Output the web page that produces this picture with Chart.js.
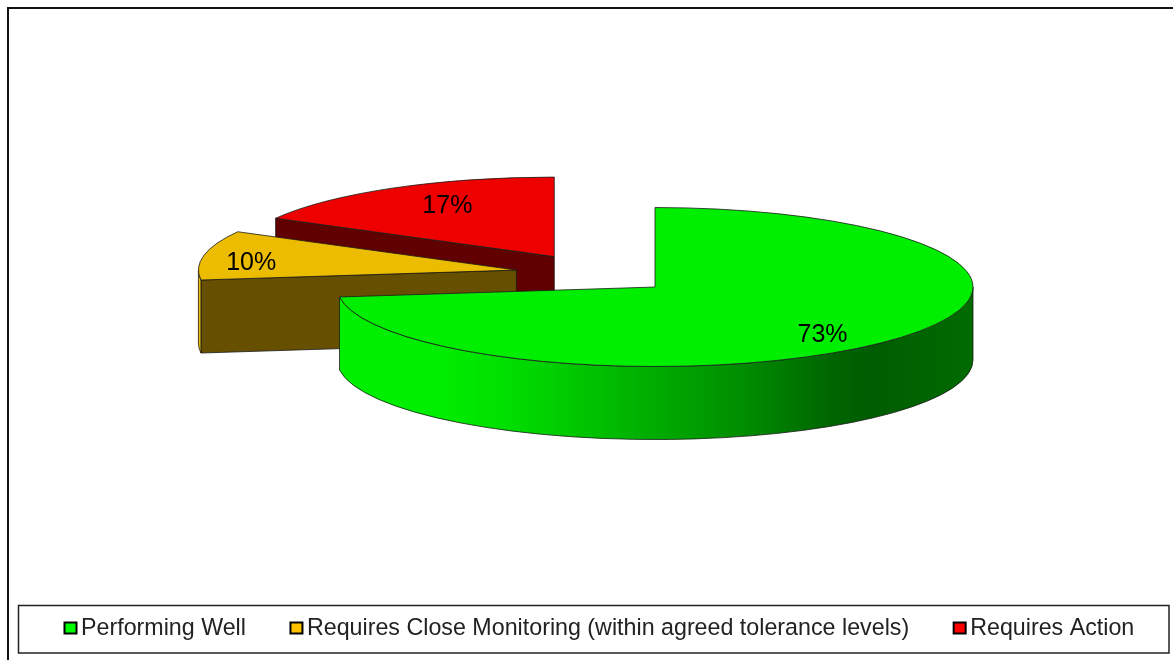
<!DOCTYPE html>
<html>
<head>
<meta charset="utf-8">
<title>Performance status</title>
<script src="https://cdn.jsdelivr.net/npm/chart.js@4"></script>
<style>
  html, body { margin: 0; padding: 0; background: #fff; overflow: hidden; }
  canvas { display: block; }
</style>
</head>
<body>
<canvas id="statusPie" width="1173" height="660"></canvas>
<script>
const categories = ['Performing Well', 'Requires Close Monitoring (within agreed tolerance levels)', 'Requires Action'];
const shares = [73, 10, 17];
const faceColours = ['#00ee00', '#ecbc00', '#ee0000'];
const legendColours = ['#00ff00', '#ffc000', '#ff0000'];
const cutColours = ['#005800', '#665000', '#600000'];

// look of the fake 3D pie
const TILT = 0.25;
const DEPTH = 73;
const EXPLODE = 80;
const PIE_Y = 273.8;
const PAINT_ORDER = [2, 1, 0]; // back to front
const LABEL_RADIUS = [222, 272, 212];
const LABEL_SHIFT_Y = [11, 6, -5];
const LABEL_SHIFT_X = [1, 2, 1];
const FONT = '"Liberation Sans", Arial, sans-serif';

// where an exploded slice sits once the disc is flattened
function sliceCentre(arc) {
    const mid = (arc.startAngle + arc.endAngle) / 2;
    return {
        x: arc.x + Math.cos(mid) * EXPLODE,
        y: PIE_Y + Math.sin(mid) * EXPLODE * TILT
    };
}

function rimFill(ctx, index, cx, r) {
    if (index !== 0) return faceColours[index];
    // shading along the front of the big slice
    const grad = ctx.createLinearGradient(cx - r, 0, cx + r, 0);
    grad.addColorStop(0, '#00f000');
    grad.addColorStop(0.16, '#00ee00');
    grad.addColorStop(0.26, '#00e000');
    grad.addColorStop(0.445, '#00b800');
    grad.addColorStop(0.634, '#008e00');
    grad.addColorStop(0.775, '#006600');
    grad.addColorStop(0.84, '#005c00');
    grad.addColorStop(1, '#006c00');
    return grad;
}

function drawCut(ctx, c, r, angle, colour) {
    const px = c.x + Math.cos(angle) * r;
    const py = c.y + Math.sin(angle) * r * TILT;
    ctx.beginPath();
    ctx.moveTo(c.x, c.y);
    ctx.lineTo(px, py);
    ctx.lineTo(px, py + DEPTH);
    ctx.lineTo(c.x, c.y + DEPTH);
    ctx.closePath();
    ctx.fillStyle = colour;
    ctx.fill();
    ctx.stroke();
}

function drawSlice(ctx, arc, index) {
    const c = sliceCentre(arc);
    const r = arc.outerRadius;
    const a0 = arc.startAngle;
    const a1 = arc.endAngle;
    ctx.save();
    ctx.strokeStyle = '#1a1a1a';
    ctx.lineWidth = 0.8;

    // cut faces turned towards the viewer
    if (Math.sin(a0 - Math.PI / 2) > 0.01) drawCut(ctx, c, r, a0, cutColours[index]);
    if (Math.sin(a1 + Math.PI / 2) > 0.01) drawCut(ctx, c, r, a1, cutColours[index]);

    // outer rim, only the part on the near half of the ellipse
    const from = Math.max(a0, 0);
    const to = Math.min(a1, Math.PI);
    if (to > from) {
        ctx.beginPath();
        ctx.ellipse(c.x, c.y, r, r * TILT, 0, from, to);
        ctx.ellipse(c.x, c.y + DEPTH, r, r * TILT, 0, to, from, true);
        ctx.closePath();
        ctx.fillStyle = rimFill(ctx, index, c.x, r);
        ctx.fill();
        ctx.stroke();
    }

    // top face is the library's own arc, squashed
    ctx.save();
    ctx.translate(c.x, c.y);
    ctx.scale(1, TILT);
    ctx.translate(-arc.x, -arc.y);
    arc.draw(ctx);
    ctx.restore();

    ctx.beginPath();
    ctx.moveTo(c.x, c.y);
    ctx.ellipse(c.x, c.y, r, r * TILT, 0, a0, a1);
    ctx.closePath();
    ctx.stroke();
    ctx.restore();
}

const pie3d = {
    id: 'pie3d',
    beforeDraw(chart) {
        const ctx = chart.ctx;
        ctx.save();
        ctx.strokeStyle = '#111';
        ctx.lineWidth = 2;
        ctx.beginPath();
        ctx.moveTo(8, 660);
        ctx.lineTo(8, 8);
        ctx.lineTo(1173, 8);
        ctx.stroke();
        ctx.restore();
    },
    beforeDatasetDraw(chart) {
        const arcs = chart.getDatasetMeta(0).data;
        PAINT_ORDER.forEach(i => drawSlice(chart.ctx, arcs[i], i));
        return false;
    },
    afterDatasetsDraw(chart) {
        const ctx = chart.ctx;
        const arcs = chart.getDatasetMeta(0).data;
        ctx.save();
        ctx.font = '25px ' + FONT;
        ctx.fillStyle = '#000';
        ctx.textAlign = 'center';
        ctx.textBaseline = 'middle';
        arcs.forEach((arc, i) => {
            const c = sliceCentre(arc);
            const mid = (arc.startAngle + arc.endAngle) / 2;
            const x = c.x + Math.cos(mid) * LABEL_RADIUS[i] + LABEL_SHIFT_X[i];
            const y = c.y + Math.sin(mid) * LABEL_RADIUS[i] * TILT + LABEL_SHIFT_Y[i];
            ctx.fillText(shares[i] + '%', x, y);
        });
        ctx.restore();
    },
    afterDraw(chart) {
        // boxed legend along the bottom
        const ctx = chart.ctx;
        ctx.save();
        ctx.strokeStyle = '#222';
        ctx.lineWidth = 1.5;
        ctx.strokeRect(18.5, 605.5, 1150.5, 47.5);
        ctx.font = '23.25px ' + FONT;
        ctx.textBaseline = 'middle';
        let x = 64.5;
        categories.forEach((name, i) => {
            ctx.fillStyle = legendColours[i];
            ctx.strokeStyle = '#000';
            ctx.lineWidth = 2;
            ctx.fillRect(x, 622.5, 12, 11);
            ctx.strokeRect(x, 622.5, 12, 11);
            ctx.fillStyle = '#222';
            ctx.fillText(name, x + 16.5, 629);
            x += 16.5 + ctx.measureText(name).width + 44.5;
        });
        ctx.restore();
    }
};

new Chart(document.getElementById('statusPie'), {
    type: 'pie',
    data: {
        labels: categories,
        datasets: [{
            data: shares,
            backgroundColor: faceColours,
            borderWidth: 0
        }]
    },
    options: {
        responsive: false,
        animation: false,
        radius: 318,
        layout: { padding: { left: 17 } },
        plugins: {
            legend: { display: false },
            tooltip: { enabled: false }
        }
    },
    plugins: [pie3d]
});
</script>
</body>
</html>
